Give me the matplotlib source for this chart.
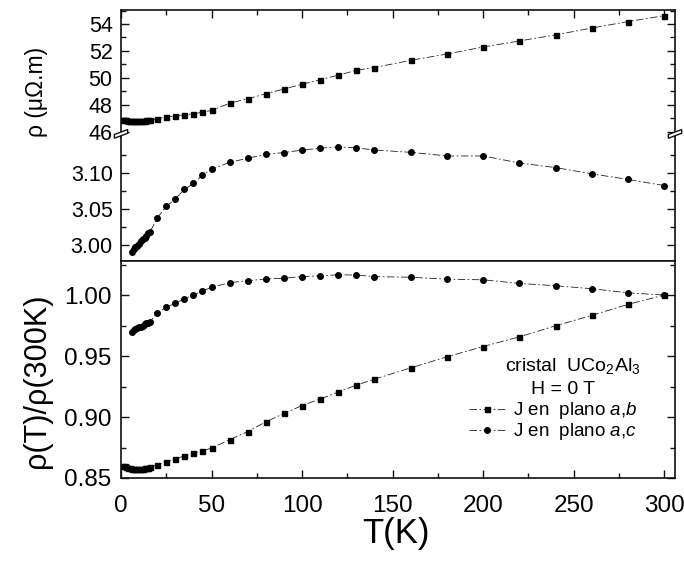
import matplotlib
matplotlib.use("Agg")
import matplotlib.pyplot as plt
from matplotlib.ticker import MultipleLocator

plt.rcParams['font.family'] = ['Liberation Sans', 'DejaVu Sans']
plt.rcParams['mathtext.fontset'] = 'custom'
plt.rcParams['mathtext.rm'] = 'Liberation Sans'
plt.rcParams['mathtext.it'] = 'Liberation Sans:italic'
plt.rcParams['mathtext.bf'] = 'Liberation Sans:bold'

# temperatures (K)
T_ab_low = [1, 2, 3, 4, 5, 6, 7, 8, 9, 10, 11, 12, 13, 14, 15, 16]
T_ac_low = [6, 7, 8, 9, 10, 11, 12, 13, 14, 15, 16]
T_high = [20, 25, 30, 35, 40, 45, 50, 60, 70, 80, 90, 100, 110, 120, 130, 140,
          160, 180, 200, 220, 240, 260, 280, 300]

# J in plane a,b  (squares)
rho_ab_low = [46.86, 46.85, 46.84, 46.83, 46.82, 46.82, 46.81, 46.81, 46.81, 46.81,
              46.82, 46.82, 46.83, 46.84, 46.85, 46.86]
rho_ab_high = [46.97, 47.10, 47.18, 47.26, 47.33, 47.45, 47.58, 48.12, 48.45, 48.82,
               49.17, 49.53, 49.86, 50.20, 50.56, 50.77, 51.30, 51.77, 52.29, 52.74,
               53.19, 53.70, 54.18, 54.62]
norm_ab_low = [0.8600, 0.8595, 0.8590, 0.8585, 0.8580, 0.8577, 0.8574, 0.8572, 0.8571,
               0.8571, 0.8572, 0.8575, 0.8578, 0.8582, 0.8585, 0.8588]
norm_ab_high = [0.8609, 0.8632, 0.8658, 0.8680, 0.8703, 0.8722, 0.8745, 0.8814, 0.8881,
                0.8960, 0.9029, 0.9094, 0.9147, 0.9205, 0.9262, 0.9310, 0.9403, 0.9493,
                0.9578, 0.9657, 0.9748, 0.9833, 0.9923, 1.0000]

# J in plane a,c  (circles)
rho_ac_low = [2.991, 2.994, 2.997, 2.999, 3.002, 3.005, 3.008, 3.010, 3.013, 3.016, 3.018]
rho_ac_high = [3.0374, 3.0535, 3.0638, 3.0768, 3.0852, 3.0964, 3.1048, 3.1143, 3.1201,
               3.1253, 3.1279, 3.1313, 3.1339, 3.1357, 3.1344, 3.1314, 3.1282, 3.1232,
               3.1232, 3.1135, 3.1071, 3.0985, 3.0907, 3.0823]
norm_ac_low = [0.970, 0.971, 0.972, 0.973, 0.974, 0.974, 0.975, 0.976, 0.977, 0.977, 0.978]
norm_ac_high = [0.9853, 0.9902, 0.9931, 0.9970, 1.0000, 1.0034, 1.0062, 1.0102, 1.0117,
                1.0132, 1.0138, 1.0151, 1.0158, 1.0166, 1.0164, 1.0151, 1.0146, 1.0130,
                1.0125, 1.0095, 1.0076, 1.0052, 1.0018, 1.0000]

T_ab = T_ab_low + T_high
T_ac = T_ac_low + T_high

W, H = 684, 572
fig = plt.figure(figsize=(W / 100, H / 100), dpi=100)

def px_axes(x0, y0, x1, y1):
    return fig.add_axes([x0 / W, 1 - y1 / H, (x1 - x0) / W, (y1 - y0) / H])

ax_top = px_axes(121, 10, 675, 137)
ax_mid = px_axes(121, 137, 675, 261)
ax_bot = px_axes(121, 261, 675, 478)

line_kw = dict(color='#222222', lw=0.6, dashes=(9, 3, 2, 3), mfc='black', mec='black')
sq_kw = dict(marker='s', ms=3.6, **line_kw)
ci_kw = dict(marker='o', ms=4.0, **line_kw)

ax_top.plot(T_ab, rho_ab_low + rho_ab_high, **sq_kw)
ax_mid.plot(T_ac, rho_ac_low + rho_ac_high, **ci_kw)
h_ab, = ax_bot.plot(T_ab, norm_ab_low + norm_ab_high, **sq_kw)
h_ac, = ax_bot.plot(T_ac, norm_ac_low + norm_ac_high, **ci_kw)

ax_top.set_ylim(45.61, 55.04)
ax_mid.set_ylim(2.9779, 3.1494)
ax_bot.set_ylim(0.85, 1.0279)

for ax in (ax_top, ax_mid, ax_bot):
    ax.set_xlim(0, 306)
    ax.xaxis.set_major_locator(MultipleLocator(50))
    ax.xaxis.set_minor_locator(MultipleLocator(25))
    for s in ax.spines.values():
        s.set_linewidth(1.2)
        s.set_color('#111111')
    ax.tick_params(which='both', direction='in', right=True, color='#111111', width=1.0)
    ax.tick_params(which='major', length=6)
    ax.tick_params(which='minor', length=3.5)

ax_top.yaxis.set_major_locator(MultipleLocator(2))
ax_top.yaxis.set_minor_locator(MultipleLocator(1))
ax_mid.yaxis.set_major_locator(MultipleLocator(0.05))
ax_mid.yaxis.set_minor_locator(MultipleLocator(0.025))
ax_bot.yaxis.set_major_locator(MultipleLocator(0.05))
ax_bot.yaxis.set_minor_locator(MultipleLocator(0.025))
ax_mid.yaxis.set_major_formatter(plt.FormatStrFormatter('%.2f'))
ax_bot.yaxis.set_major_formatter(plt.FormatStrFormatter('%.2f'))

ax_top.spines['bottom'].set_visible(False)
ax_top.tick_params(axis='x', which='both', top=True, bottom=False, labelbottom=False)
ax_mid.spines['top'].set_visible(False)
ax_mid.tick_params(axis='x', which='both', top=False, bottom=False, labelbottom=False)
ax_bot.tick_params(axis='x', which='both', top=False, bottom=True)

ax_top.tick_params(axis='y', labelsize=15.5, pad=6)
ax_mid.tick_params(axis='y', labelsize=15.5, pad=6)
ax_bot.tick_params(axis='y', labelsize=17.5, pad=7)
ax_bot.tick_params(axis='x', labelsize=17.5, pad=12)

# break marks on the shared top/middle axis
for xa in (0.0, 1.0):
    ax_mid.fill([xa - 0.012, xa + 0.012, xa + 0.012, xa - 0.012],
                [0.99, 1.03, 1.06, 1.02], transform=ax_mid.transAxes,
                facecolor='white', edgecolor='#111111', lw=1.0, clip_on=False, zorder=5)

fig.text(36 / W, 1 - 92 / H, 'ρ (μΩ.m)', rotation=90, ha='center', va='center', fontsize=16.5)
fig.text(37 / W, 1 - 381 / H, 'ρ(T)/ρ(300K)', rotation=90, ha='center', va='center', fontsize=22)
fig.text(396 / W, 1 - 534 / H, 'T(K)', ha='center', va='center', fontsize=25)

fig.text(573 / W, 1 - 366 / H, r'cristal  UCo$_2$Al$_3$', ha='center', va='center', fontsize=14)
fig.text(563 / W, 1 - 389 / H, 'H = 0 T', ha='center', va='center', fontsize=14)
ax_bot.legend([h_ab, h_ac], [r'J en  plano $a$,$b$', r'J en  plano $a$,$c$'],
              loc='center left', bbox_to_anchor=(0.628, 0.262), frameon=False,
              fontsize=13.5, handlelength=1.9, handletextpad=0.45, labelspacing=0.0,
              borderpad=0, borderaxespad=0)

fig.savefig('out.png', dpi=100)
